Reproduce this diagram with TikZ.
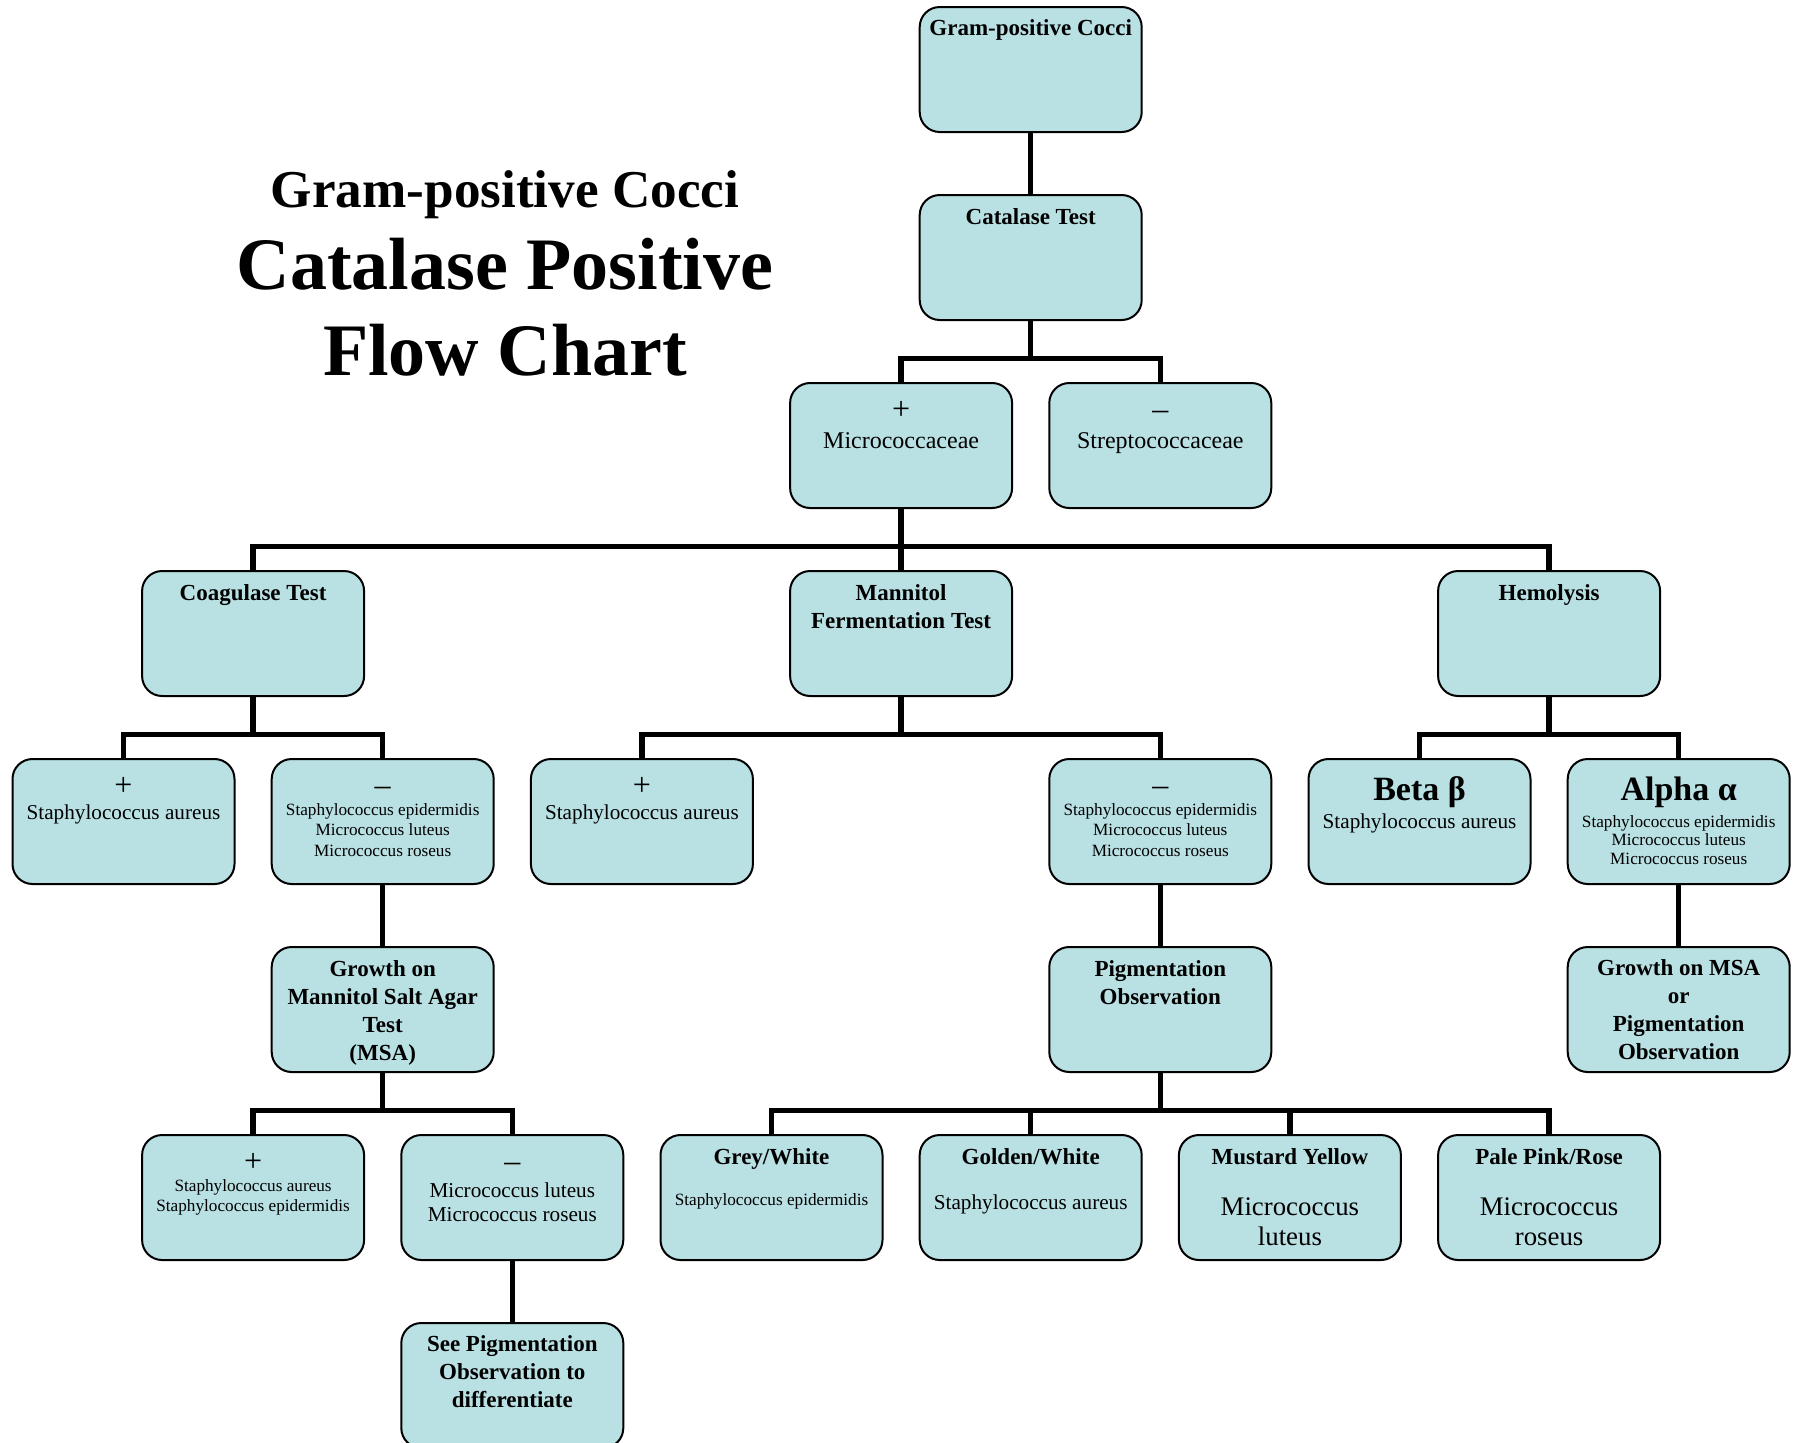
\documentclass[tikz,border=0pt]{standalone}
\usepackage{fontspec}
\setmainfont{Liberation Serif}
\usepackage{xcolor}
\usetikzlibrary{positioning}

\definecolor{boxfill}{RGB}{185,224,227}

\newcommand{\fhead}{\fontsize{11.5pt}{14pt}\selectfont\bfseries}
\newcommand{\fnorm}{\fontsize{10.6pt}{12pt}\selectfont\mdseries}
\newcommand{\fsmall}{\fontsize{8.6pt}{10.2pt}\selectfont\mdseries}
\newcommand{\fsign}{\fontsize{16pt}{14.5pt}\selectfont\mdseries}
\newcommand{\fmid}{\fontsize{13.4pt}{15pt}\selectfont\mdseries}
\newcommand{\fgreek}{\fontsize{17pt}{20pt}\selectfont\bfseries}
% text hangs from the top of each box, first baseline at #1
\newcommand{\boxtext}[2]{\parbox[c][62.5pt][t]{110pt}{\centering\rule{0pt}{#1}#2}}

\tikzset{
  box/.style={draw=black, line width=1pt, rounded corners=10pt, fill=boxfill,
              inner sep=0pt, minimum width=111pt, minimum height=62.5pt},
  link/.style={line width=2.7pt, black},
  title/.style={anchor=base}
}

\begin{document}
\begin{tikzpicture}[on grid, node distance=94pt and 64.8pt]
    \useasboundingbox (0,0) rectangle (896.5pt,-721pt);
    \clip (0,0) rectangle (896.5pt,-721pt);

    % title
    \node[title, font=\fontsize{26.6pt}{30pt}\selectfont\bfseries] (title1) at (252.5pt,-103.5pt) {Gram-positive Cocci};
    \node[title, font=\fontsize{37pt}{42pt}\selectfont\bfseries] (title2) at (252.5pt,-144.5pt) {Catalase Positive};
    \node[title, font=\fontsize{37pt}{42pt}\selectfont\bfseries] (title3) at (252.5pt,-187.5pt) {Flow Chart};

    % boxes
    \node[box] (gram) at (515.35pt,-34.75pt) {\boxtext{14pt}{\fhead Gram-positive Cocci}};
    \node[box, below=of gram] (catalase) {\boxtext{14.5pt}{\fhead Catalase Test}};
    \node[box, below left=of catalase] (micro) {\boxtext{18pt}{\fsign +\\\fontsize{12pt}{14.5pt}\selectfont Micrococcaceae}};
    \node[box, below right=of catalase] (strepto) {\boxtext{18pt}{\fsign –\\\fontsize{12pt}{14.5pt}\selectfont Streptococcaceae}};

    \node[box, below left=94pt and 324pt of micro] (coag) {\boxtext{14.5pt}{\fhead Coagulase Test}};
    \node[box, below=of micro] (mannitol) {\boxtext{14.5pt}{\fhead Mannitol\\Fermentation Test}};
    \node[box, below right=94pt and 324pt of micro] (hemo) {\boxtext{14.5pt}{\fhead Hemolysis}};

    \node[box, below left=of coag] (coagpos) {\boxtext{18pt}{\fsign +\\\fnorm Staphylococcus aureus}};
    \node[box, below right=of coag] (coagneg) {\boxtext{18pt}{\fsign –\\\fsmall Staphylococcus epidermidis\\Micrococcus luteus\\Micrococcus roseus}};
    \node[box, below left=94pt and 129.6pt of mannitol] (mannpos) {\boxtext{18pt}{\fsign +\\\fnorm Staphylococcus aureus}};
    \node[box, below right=94pt and 129.6pt of mannitol] (mannneg) {\boxtext{18pt}{\fsign –\\\fsmall Staphylococcus epidermidis\\Micrococcus luteus\\Micrococcus roseus}};
    \node[box, below left=of hemo] (beta) {\boxtext{20.5pt}{\fgreek Beta β\\[2pt]\fnorm Staphylococcus aureus}};
    \node[box, below right=of hemo] (alpha) {\boxtext{20.5pt}{\fgreek Alpha α\\[3pt]\fsmall\fontsize{8.6pt}{9.3pt}\selectfont Staphylococcus epidermidis\\Micrococcus luteus\\Micrococcus roseus}};

    \node[box, below=of coagneg] (msa) {\boxtext{14.5pt}{\fhead Growth on\\Mannitol Salt Agar\\Test\\(MSA)}};
    \node[box, below=of mannneg] (pigment) {\boxtext{14.5pt}{\fhead Pigmentation\\Observation}};
    \node[box, below=of alpha] (msapig) {\boxtext{14pt}{\fhead Growth on MSA\\or\\Pigmentation\\Observation}};

    \node[box, below left=of msa] (msapos) {\boxtext{18pt}{\fsign +\\\fsmall Staphylococcus aureus\\Staphylococcus epidermidis}};
    \node[box, below right=of msa] (msaneg) {\boxtext{18pt}{\fsign –\\[1pt]\fnorm Micrococcus luteus\\Micrococcus roseus}};
    \node[box, below left=94pt and 194.4pt of pigment] (grey) {\boxtext{14.5pt}{\fhead Grey/White\\[10.3pt]\fsmall Staphylococcus epidermidis}};
    \node[box, below left=of pigment] (golden) {\boxtext{14.5pt}{\fhead Golden/White\\[10.5pt]\fnorm Staphylococcus aureus}};
    \node[box, below right=of pigment] (mustard) {\boxtext{14.5pt}{\fhead Mustard Yellow\\[10.5pt]\fmid Micrococcus\\luteus}};
    \node[box, below right=94pt and 194.4pt of pigment] (pale) {\boxtext{14.5pt}{\fhead Pale Pink/Rose\\[10.5pt]\fmid Micrococcus\\roseus}};

    \node[box, below=of msaneg] (seepig) {\boxtext{14pt}{\fhead See Pigmentation\\Observation to\\differentiate}};

    % bus points
    \coordinate[below=18.75pt of catalase.south] (catbus);
    \coordinate[below=18.75pt of micro.south] (microbus);
    \coordinate[below=18.75pt of coag.south] (coagbus);
    \coordinate[below=18.75pt of mannitol.south] (mannbus);
    \coordinate[below=18.75pt of hemo.south] (hemobus);
    \coordinate[below=18.75pt of msa.south] (msabus);
    \coordinate[below=18.75pt of pigment.south] (pigbus);

    % connectors
    \draw[link] (gram) -- (catalase);
    \draw[link] (catalase) -- (catbus) (catbus) -| (micro) (catbus) -| (strepto);
    \draw[link] (micro) -- (microbus);
    \foreach \c in {coag, mannitol, hemo}
        \draw[link] (microbus) -| (\c);
    \draw[link] (coag) -- (coagbus) (coagbus) -| (coagpos) (coagbus) -| (coagneg);
    \draw[link] (mannitol) -- (mannbus) (mannbus) -| (mannpos) (mannbus) -| (mannneg);
    \draw[link] (hemo) -- (hemobus) (hemobus) -| (beta) (hemobus) -| (alpha);
    \draw[link] (coagneg) -- (msa);
    \draw[link] (mannneg) -- (pigment);
    \draw[link] (alpha) -- (msapig);
    \draw[link] (msa) -- (msabus) (msabus) -| (msapos) (msabus) -| (msaneg);
    \draw[link] (pigment) -- (pigbus);
    \foreach \c in {grey, golden, mustard, pale}
        \draw[link] (pigbus) -| (\c);
    \draw[link] (msaneg) -- (seepig);
\end{tikzpicture}
\end{document}
